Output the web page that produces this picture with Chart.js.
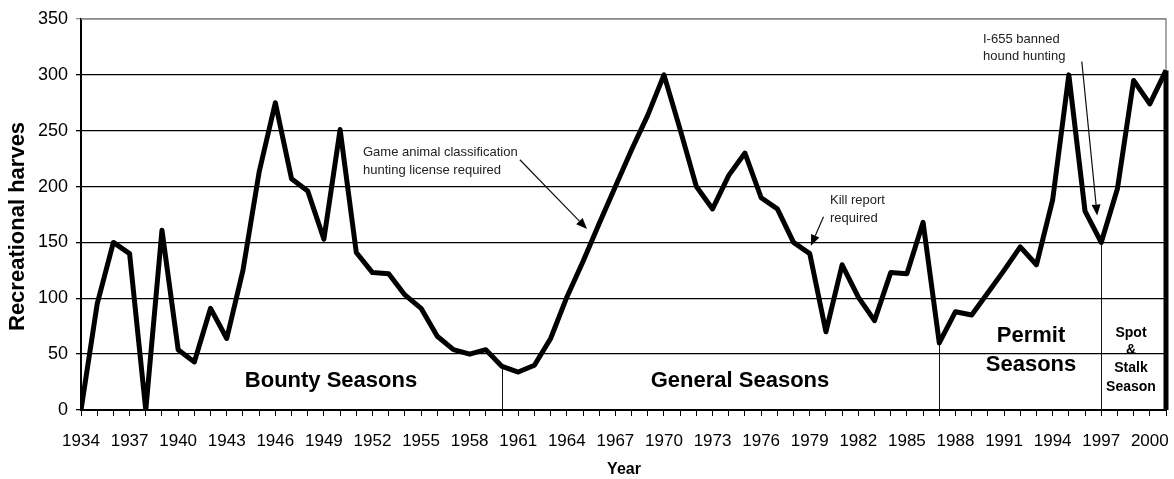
<!DOCTYPE html>
<html>
<head>
<meta charset="utf-8">
<script src="https://cdn.jsdelivr.net/npm/chart.js@4/dist/chart.umd.min.js"></script>
<style>
  body { margin: 0; background: #fff; }
  #wrap { width: 1174px; height: 479px; position: relative; }
</style>
</head>
<body>
<div id="wrap"><canvas id="grafico"></canvas></div>
<script>
"use strict";
// Datos
const anios = [1934, 1935, 1936, 1937, 1938, 1939, 1940, 1941, 1942, 1943,
  1944, 1945, 1946, 1947, 1948, 1949, 1950, 1951, 1952, 1953,
  1954, 1955, 1956, 1957, 1958, 1959, 1960, 1961, 1962, 1963,
  1964, 1965, 1966, 1967, 1968, 1969, 1970, 1971, 1972, 1973,
  1974, 1975, 1976, 1977, 1978, 1979, 1980, 1981, 1982, 1983,
  1984, 1985, 1986, 1987, 1988, 1989, 1990, 1991, 1992, 1993,
  1994, 1995, 1996, 1997, 1998, 1999, 2000, 2001];
const cosecha = [0, 95, 150, 140, 0, 161, 54, 43, 91, 64,
  125, 213, 275, 207, 196, 153, 251, 141, 123, 122,
  103, 91, 66, 54, 50, 54, 39, 34, 40, 64,
  101, 133, 167, 200, 233, 264, 300, 251, 200, 180,
  210, 230, 190, 180, 150, 140, 70, 130, 101, 80,
  123, 122, 168, 60, 88, 85, 105, 125, 146, 130,
  188, 300, 178, 150, 198, 295, 274, 304];
// caida final del trazo en el borde derecho
const caidaFinal = [304, 0];
// anios donde cambia el tipo de temporada
const aniosCambio = [1960, 1987, 1997];
const ticksY = [0, 50, 100, 150, 200, 250, 300, 350];

const FUENTE = "Arial, 'Liberation Sans', sans-serif";

const puntos = anios.map((a, i) => ({ x: a, y: cosecha[i] }));
const puntosCaida = caidaFinal.map(v => ({ x: anios[anios.length - 1], y: v }));

function flecha(ctx, x1, y1, x2, y2) {
  const ang = Math.atan2(y2 - y1, x2 - x1);
  const largo = 11, ancho = 4.5;
  const bx = x2 - largo * Math.cos(ang), by = y2 - largo * Math.sin(ang);
  ctx.beginPath();
  ctx.moveTo(x1, y1);
  ctx.lineTo(bx, by);
  ctx.stroke();
  ctx.beginPath();
  ctx.moveTo(x2, y2);
  ctx.lineTo(bx + ancho * Math.sin(ang), by - ancho * Math.cos(ang));
  ctx.lineTo(bx - ancho * Math.sin(ang), by + ancho * Math.cos(ang));
  ctx.closePath();
  ctx.fill();
}

const extras = {
  id: "extras",
  beforeDatasetsDraw(chart) {
    const { ctx, chartArea: ca, scales: { x, y } } = chart;
    ctx.save();
    // borde gris superior y derecho
    ctx.strokeStyle = "#8c8c8c";
    ctx.lineWidth = 1.5;
    ctx.beginPath();
    ctx.moveTo(ca.left, ca.top);
    ctx.lineTo(ca.right, ca.top);
    ctx.lineTo(ca.right, ca.bottom);
    ctx.stroke();
    // lineas verticales de cambio de temporada
    ctx.strokeStyle = "#111";
    ctx.lineWidth = 1;
    aniosCambio.forEach(a => {
      const v = cosecha[anios.indexOf(a)];
      const px = Math.round(x.getPixelForValue(a)) + 0.5;
      ctx.beginPath();
      ctx.moveTo(px, y.getPixelForValue(v));
      ctx.lineTo(px, y.getPixelForValue(0));
      ctx.stroke();
    });
    ctx.restore();
  },
  afterDraw(chart) {
    const { ctx, scales: { x, y } } = chart;
    ctx.save();
    ctx.fillStyle = "#000";
    ctx.textAlign = "center";
    ctx.textBaseline = "middle";
    // etiquetas de temporadas
    ctx.font = "bold 22px " + FUENTE;
    ctx.fillText("Bounty Seasons", 331, 381);
    ctx.fillText("General Seasons", 740, 381);
    ctx.fillText("Permit", 1031, 336);
    ctx.fillText("Seasons", 1031, 365);
    ctx.font = "bold 14px " + FUENTE;
    ctx.fillText("Spot", 1131, 333);
    ctx.fillText("&", 1131, 350);
    ctx.fillText("Stalk", 1131, 368);
    ctx.fillText("Season", 1131, 387);
    // titulo eje x
    ctx.font = "bold 16px " + FUENTE;
    ctx.fillText("Year", 624, 470);
    // titulo eje y (recortado arriba como en el original)
    ctx.save();
    ctx.beginPath();
    ctx.rect(0, 122, 40, 300);
    ctx.clip();
    ctx.translate(18, 331);
    ctx.rotate(-Math.PI / 2);
    ctx.textAlign = "left";
    ctx.font = "bold 22px " + FUENTE;
    ctx.fillText("Recreational harvest", 0, 0);
    ctx.restore();
    // notas con flechas
    ctx.fillStyle = "#222";
    ctx.strokeStyle = "#111";
    ctx.lineWidth = 1.2;
    ctx.textAlign = "left";
    ctx.font = "13px " + FUENTE;
    ctx.fillText("Game animal classification", 363, 152);
    ctx.fillText("hunting license required", 363, 170);
    ctx.fillText("Kill report", 830, 200);
    ctx.fillText("required", 830, 218);
    ctx.fillText("I-655 banned", 983, 39);
    ctx.fillText("hound hunting", 983, 56);
    ctx.fillStyle = "#000";
    flecha(ctx, x.getPixelForValue(1961.1), y.getPixelForValue(224), x.getPixelForValue(1965.25), y.getPixelForValue(162));
    flecha(ctx, x.getPixelForValue(1979.85), y.getPixelForValue(173), x.getPixelForValue(1979.07), y.getPixelForValue(147));
    flecha(ctx, x.getPixelForValue(1995.8), y.getPixelForValue(312), x.getPixelForValue(1996.75), y.getPixelForValue(174));
    ctx.restore();
  }
};

const ctx = document.getElementById("grafico");
const grafico = new Chart(ctx, {
  type: "line",
  data: {
    datasets: [{
      data: puntos,
      borderColor: "#000",
      borderWidth: 5,
      pointRadius: 0,
      tension: 0,
      borderJoinStyle: "round",
      clip: { left: 0, top: 5, right: 5, bottom: 0 }
    }, {
      data: puntosCaida,
      borderColor: "#000",
      borderWidth: 5,
      pointRadius: 0,
      clip: { left: 0, top: 5, right: 5, bottom: 0 }
    }]
  },
  options: {
    responsive: true,
    maintainAspectRatio: false,
    animation: false,
    events: [],
    layout: { padding: { top: 19, right: 8, left: 0, bottom: 0 } },
    plugins: { legend: { display: false }, tooltip: { enabled: false } },
    scales: {
      x: {
        type: "linear",
        min: anios[0],
        max: anios[anios.length - 1],
        afterBuildTicks: (eje) => { eje.ticks = anios.map(a => ({ value: a })); },
        afterFit: (eje) => {
          eje.height = 69;
          eje.paddingLeft = 0;
          eje.paddingRight = 0;
        },
        border: { color: "#000", width: 2 },
        grid: { drawOnChartArea: false, drawTicks: true, tickLength: 6, color: "#000", lineWidth: 1 },
        ticks: {
          autoSkip: false,
          maxRotation: 0,
          padding: 15,
          color: "#000",
          font: { family: FUENTE, size: 17 },
          callback: (v) => ((v - anios[0]) % 3 === 0 ? String(v) : "")
        }
      },
      y: {
        min: 0,
        max: 350,
        afterBuildTicks: (eje) => { eje.ticks = ticksY.map(v => ({ value: v })); },
        afterFit: (eje) => {
          eje.width = 81;
          eje.paddingTop = 0;
          eje.paddingBottom = 0;
        },
        border: { color: "#000", width: 2 },
        grid: {
          color: (c) => (c.tick && c.tick.value === 350 ? "#8c8c8c" : "#000"),
          lineWidth: 1.3,
          tickLength: 5
        },
        ticks: {
          padding: 8,
          color: "#000",
          font: { family: FUENTE, size: 18 }
        }
      }
    }
  },
  plugins: [extras]
});
</script>
</body>
</html>
